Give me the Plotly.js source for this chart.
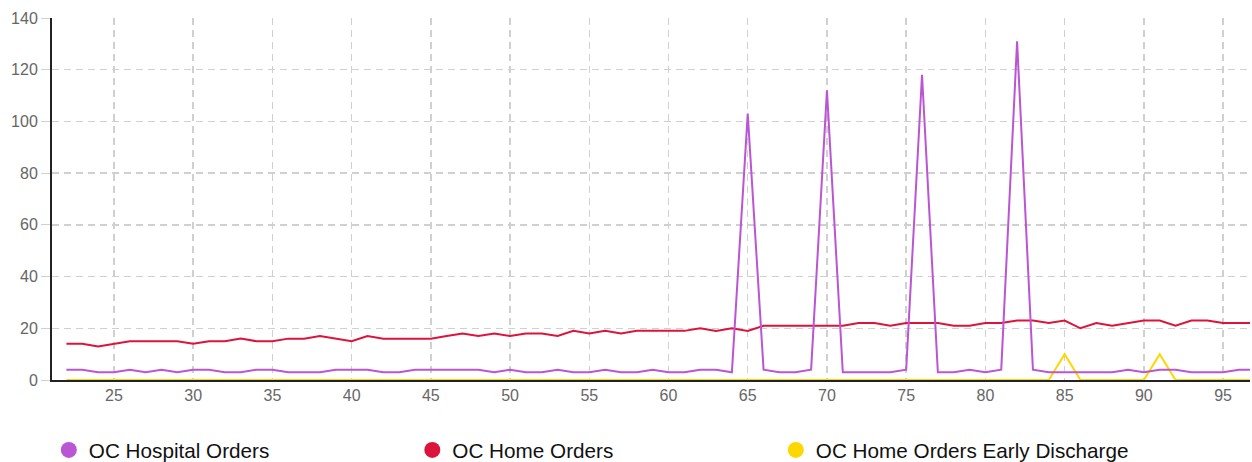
<!DOCTYPE html>
<html>
<head>
<meta charset="utf-8">
<script src="https://cdn.plot.ly/plotly-3.0.1.min.js"></script>
<style>html,body{margin:0;padding:0;background:#fff;}#chart{width:1252px;height:462px;}</style>
</head>
<body>
<div id="chart"></div>
<script>
const days = [22,23,24,25,26,27,28,29,30,31,32,33,34,35,36,37,38,39,40,41,42,43,44,45,46,47,48,49,50,51,52,53,54,55,56,57,58,59,60,61,62,63,64,65,66,67,68,69,70,71,72,73,74,75,76,77,78,79,80,81,82,83,84,85,86,87,88,89,90,91,92,93,94,95,96,97];
const hospitalOrders = [4,4,3,3,4,3,4,3,4,4,3,3,4,4,3,3,3,4,4,4,3,3,4,4,4,4,4,3,4,3,3,4,3,3,4,3,3,4,3,3,4,4,3,103,4,3,3,4,112,3,3,3,3,4,118,3,3,4,3,4,131,4,3,3,3,3,3,4,3,4,4,3,3,3,4,4];
const homeOrders = [14,14,13,14,15,15,15,15,14,15,15,16,15,15,16,16,17,16,15,17,16,16,16,16,17,18,17,18,17,18,18,17,19,18,19,18,19,19,19,19,20,19,20,19,21,21,21,21,21,21,22,22,21,22,22,22,21,21,22,22,23,23,22,23,20,22,21,22,23,23,21,23,23,22,22,22];
const earlyDischarge = [0,0,0,0,0,0,0,0,0,0,0,0,0,0,0,0,0,0,0,0,0,0,0,0,0,0,0,0,0,0,0,0,0,0,0,0,0,0,0,0,0,0,0,0,0,0,0,0,0,0,0,0,0,0,0,0,0,0,0,0,0,0,0,10,0,0,0,0,0,10,0,0,0,0,0,0];
const seriesNames = ["OC Hospital Orders","OC Home Orders","OC Home Orders Early Discharge"];
const seriesColors = ["#BA55D3","#DC143C","#FFD700"];

const lineTraces = [
  {x: days, y: earlyDischarge, name: seriesNames[2], color: seriesColors[2]},
  {x: days, y: homeOrders, name: seriesNames[1], color: seriesColors[1]},
  {x: days, y: hospitalOrders, name: seriesNames[0], color: seriesColors[0]}
].map(s => ({x: s.x, y: s.y, type: 'scatter', mode: 'lines', name: s.name,
  line: {color: s.color, width: 2}, showlegend: false, legendgroup: s.name, hoverinfo: 'x+y+name'}));

const legendTraces = seriesNames.map((n, i) => ({
  x: [null], y: [null], type: 'scatter', mode: 'markers', name: n, legendgroup: n,
  marker: {color: seriesColors[i], size: 22, symbol: 'circle'}, showlegend: true
}));

const layout = {
  width: 1252, height: 462,
  margin: {l: 52, r: 2, t: 18, b: 82},
  paper_bgcolor: '#fff', plot_bgcolor: '#fff',
  font: {family: 'Liberation Sans, Arial, sans-serif', color: '#666'},
  xaxis: {
    range: [21.09, 96.7], dtick: 5, tick0: 0, showgrid: true, gridcolor: '#d0d0d0', gridwidth: 1.5,
    griddash: '7px,5px', showline: true, linecolor: '#222', linewidth: 2, zeroline: false,
    ticks: '', tickfont: {size: 16, color: '#666'}, automargin: false
  },
  yaxis: {
    range: [0, 140], dtick: 20, showgrid: true, gridcolor: '#d0d0d0', gridwidth: 1.5,
    griddash: '7px,5px', showline: true, linecolor: '#222', linewidth: 2, zeroline: false,
    ticks: 'outside', ticklen: 9, tickcolor: '#d0d0d0', tickfont: {size: 16, color: '#666'}, automargin: false
  },
  showlegend: true,
  legend: {orientation: 'h', xref: 'container', yref: 'container', x: 0.039, xanchor: 'left', y: 0.026, yanchor: 'middle',
    entrywidth: 318.5, entrywidthmode: 'pixels', font: {size: 20.7, color: '#111'}, itemsizing: 'trace'}
};

Plotly.newPlot('chart', lineTraces.concat(legendTraces), layout, {displayModeBar: false, staticPlot: true});
</script>
</body>
</html>
